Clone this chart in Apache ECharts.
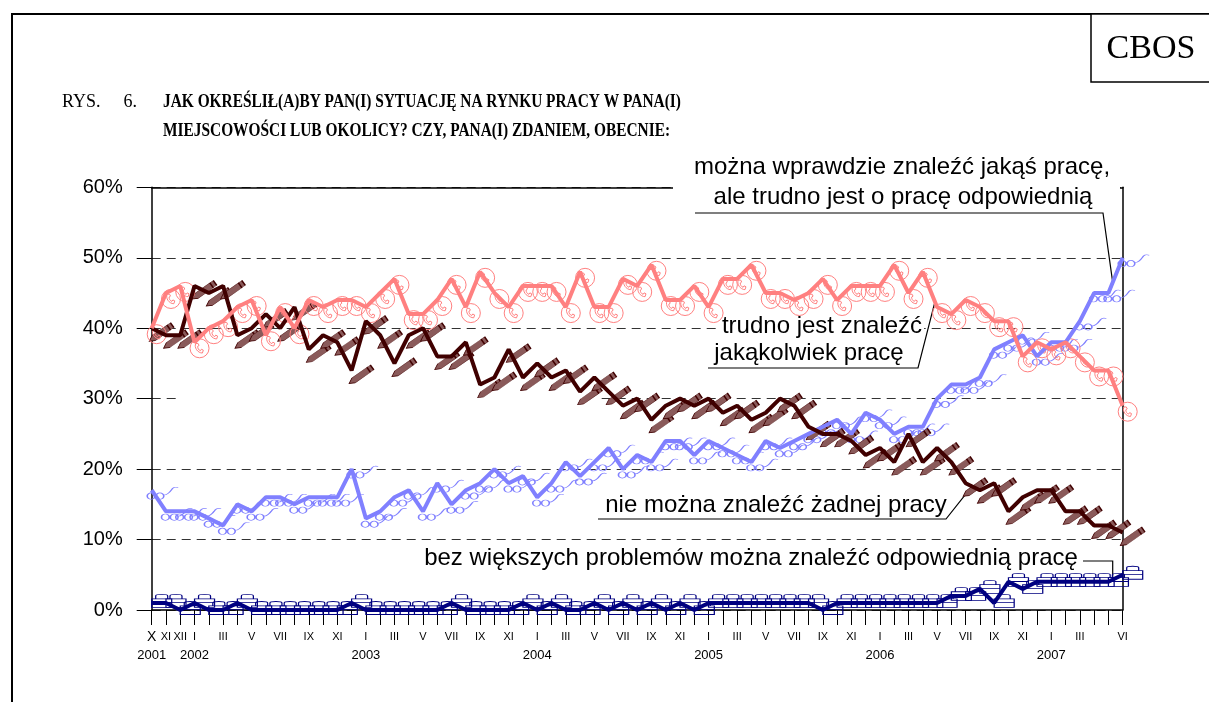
<!DOCTYPE html>
<html>
<head>
<meta charset="utf-8">
<script src="https://cdn.jsdelivr.net/npm/echarts@6/dist/echarts.min.js"></script>
<style>
html,body{margin:0;padding:0;background:#fff;}
#chart{width:1209px;height:702px;}
</style>
</head>
<body>
<div id="chart"></div>
<script>
// ---------- DATA ----------
const categories = [
 '2001-10','2001-11','2001-12',
 '2002-01','2002-02','2002-03','2002-04','2002-05','2002-06','2002-07','2002-08','2002-09','2002-10','2002-11','2002-12',
 '2003-01','2003-02','2003-03','2003-04','2003-05','2003-06','2003-07','2003-08','2003-09','2003-10','2003-11','2003-12',
 '2004-01','2004-02','2004-03','2004-04','2004-05','2004-06','2004-07','2004-08','2004-09','2004-10','2004-11','2004-12',
 '2005-01','2005-02','2005-03','2005-04','2005-05','2005-06','2005-07','2005-08','2005-09','2005-10','2005-11','2005-12',
 '2006-01','2006-02','2006-03','2006-04','2006-05','2006-06','2006-07','2006-08','2006-09','2006-10','2006-11','2006-12',
 '2007-01','2007-02','2007-03','2007-04','2007-05','2007-06'
];
const monthTickLabels = [
 'X','XI','XII',
 'I','','III','','V','','VII','','IX','','XI','',
 'I','','III','','V','','VII','','IX','','XI','',
 'I','','III','','V','','VII','','IX','','XI','',
 'I','','III','','V','','VII','','IX','','XI','',
 'I','','III','','V','','VII','','IX','','XI','',
 'I','','III','','','VI'
];
const yearTickLabels = {0:'2001',3:'2002',15:'2003',27:'2004',39:'2005',51:'2006',63:'2007'};

// "można wprawdzie znaleźć jakąś pracę, ale trudno jest o pracę odpowiednią"
const seriesOdpowiednia = [17,14,14,14,13,12,15,14,16,16, 15,16,16,16,20,13,14,16,17,14,
 18,15,17,18,20,18,19,16,18,21, 19,21,23,20,22,21,24,24,22,24,
 23,22,21,24,23,24,25,26,27,25, 28,27,25,26,26,30,32,32,33,37,
 38,39,36,38,38,41,45,45,50];
// "trudno jest znaleźć jakąkolwiek pracę"
const seriesJakakolwiek = [40,45,46,38,40,41,43,44,39,43, 40,44,43,44,44,43,45,47,42,42,
 44,47,43,48,45,43,46,46,46,43, 48,43,43,47,46,49,44,44,46,43,
 47,47,49,45,45,44,45,47,44,46, 46,46,49,45,48,43,42,44,43,41,
 41,36,38,37,38,36,34,34,29];
// "nie można znaleźć żadnej pracy"
const seriesZadnej = [40,39,39,46,45,46,39,40,42,40, 43,37,39,38,34,41,39,35,39,40,
 36,36,38,32,33,37,33,35,33,34, 31,33,31,29,30,27,29,30,29,30,
 28,29,27,28,30,29,26,25,25,24, 22,23,21,25,21,23,21,18,17,18,
 14,16,17,17,14,14,12,12,11];
// "bez większych problemów można znaleźć odpowiednią pracę"
const seriesBez = [1,1,0,1,0,0,1,0,0,0, 0,0,0,0,1,0,0,0,0,0,
 0,1,0,0,0,0,1,0,1,0, 0,1,0,1,0,1,0,1,0,1,
 1,1,1,1,1,1,1,0,1,1, 1,1,1,1,1,1,2,2,3,1,
 4,3,4,4,4,4,4,4,5];

// ---------- STYLE ----------
const C_PINK = '#ff8080', C_BROWN = '#400000', C_BLUE = '#8080ff', C_NAVY = '#000080';
const SANS = '"Liberation Sans", Arial, sans-serif';
const SERIF = '"Liberation Serif", "Times New Roman", serif';

const PENCIL = 'path://M0,5 L8,0 L34,0 L34,10 L8,10 Z M34,0 L40,0 L40,10 L34,10 Z';
const PHONE = 'path://M10,0 A10,10 0 1,1 9.99,0 Z M6,5 C4,9 8,15 13,15 L14,12 L12,11 L11,12.5 C9,12 8,10 8,8 L9.5,7 L8.5,5 Z';
const GLASSES = 'path://M0,9 A3.5,3 0 1,0 7,9 A3.5,3 0 1,0 0,9 Z M8,9 A3.5,3 0 1,0 15,9 A3.5,3 0 1,0 8,9 Z M7,8 L8,8 M15,8 C18,8 20,6 22,3 C23,1 25,0 28,1';
const CASE = 'path://M0,5 L20,5 L20,14 L0,14 Z M4,5 L4,2 C4,0 16,0 16,2 L16,5 M0,9 L20,9';

const chart = echarts.init(document.getElementById('chart'), null, {renderer:'canvas'});

function markerSeries(data, symbol, size, offset, rotate, color, fill, bw){
  return {type:'scatter', data:data, symbol:symbol, symbolSize:size, symbolOffset:offset,
    symbolRotate:rotate, z:2, silent:true,
    itemStyle:{color:fill, borderColor:color, borderWidth:bw, opacity:1}};
}
function lineSeries(name, data, color){
  return {type:'line', name:name, data:data, showSymbol:false, symbol:'none', z:3,
    lineStyle:{color:color, width:4}, itemStyle:{color:color}, silent:true};
}

const option = {
  animation:false,
  backgroundColor:'#fff',
  grid:{left:151.7, right:86.3, top:187.3, bottom:92},
  xAxis:[{
    type:'category', data:categories, boundaryGap:false,
    axisLine:{show:true, lineStyle:{color:'#000', width:1.5}},
    axisTick:{show:true, interval:0, length:15, lineStyle:{color:'#000', width:1}},
    axisLabel:{show:true, interval:0, margin:20, color:'#000', fontFamily:SANS,
      formatter:function(v, i){
        const m = monthTickLabels[i];
        const y = yearTickLabels[i];
        if (!m && !y) return '';
        const mStyle = (i === 0) ? 'big' : 'm';
        let s = '{' + mStyle + '|' + (m || ' ') + '}';
        if (y) s += '\n{y|' + y + '}';
        return s;
      },
      rich:{
        m:{fontSize:11, lineHeight:14, fontFamily:SANS, color:'#000'},
        big:{fontSize:14, lineHeight:14, fontFamily:SANS, color:'#000'},
        y:{fontSize:13, lineHeight:23, fontFamily:SANS, color:'#000'}
      }
    },
    splitLine:{show:false}
  },{
    type:'category', data:categories, boundaryGap:false, position:'top',
    axisLine:{show:true, onZero:false, lineStyle:{color:'#000', width:1.5}},
    axisTick:{show:false}, axisLabel:{show:false}, splitLine:{show:false}
  }],
  yAxis:[{
    type:'value', min:0, max:60, interval:10,
    axisLine:{show:true, lineStyle:{color:'#000', width:1.5}},
    axisTick:{show:true, length:15, lineStyle:{color:'#000'}},
    axisLabel:{formatter:'{value}%', fontSize:20, fontFamily:SANS, color:'#000', margin:29},
    splitLine:{show:true, lineStyle:{color:'#333', width:1, type:[9,6]}}
  },{
    type:'value', min:0, max:60, interval:10, position:'right',
    axisLine:{show:true, onZero:false, lineStyle:{color:'#000', width:1.5}},
    axisTick:{show:false}, axisLabel:{show:false}, splitLine:{show:false}
  }],
  series:[
    markerSeries(seriesBez, CASE, [20,13], [10,-2], 0, C_NAVY, 'rgba(0,0,0,0)', 1),
    markerSeries(seriesOdpowiednia, GLASSES, [31,12], [11,3], 0, C_BLUE, 'rgba(0,0,0,0)', 1),
    markerSeries(seriesZadnej, PENCIL, [28,6], [9,5], 35, C_BROWN, '#8a5a5a', 0.7),
    markerSeries(seriesJakakolwiek, PHONE, [19,19], [5,6], 0, C_PINK, 'rgba(0,0,0,0)', 1),
    lineSeries('odpowiednia', seriesOdpowiednia, C_BLUE),
    lineSeries('zadnej', seriesZadnej, C_BROWN),
    lineSeries('jakakolwiek', seriesJakakolwiek, C_PINK),
    lineSeries('bez', seriesBez, C_NAVY)
  ]
};
chart.setOption(option);

// ---------- ANNOTATIONS (leader ends derived from data) ----------
function px(i, arr){ return chart.convertToPixel({xAxisIndex:0, yAxisIndex:0}, [i, arr[i]]); }
function along(i, arr, t){ const a = px(i, arr), b = px(i+1, arr); return [a[0]+(b[0]-a[0])*t, a[1]+(b[1]-a[1])*t]; }

const pBlue = along(67, seriesOdpowiednia, 0.3);
const pPink = along(54, seriesJakakolwiek, 0.85);
const pBrown = along(57, seriesZadnej, 0.44);
const pNavy = along(67, seriesBez, 0.3);
const y30 = chart.convertToPixel({yAxisIndex:0}, 30);
const y60 = chart.convertToPixel({yAxisIndex:0}, 60);

function txt(s, x, y, size, font, weight, align, bg, sx){
  const st = {text:s, x:0, y:0, font:(weight||'normal') + ' ' + size + 'px ' + font, fill:'#000',
    align:align||'center', verticalAlign:'middle'};
  if (bg) { st.backgroundColor = '#fff'; st.padding = [0,2]; }
  const el = {type:'text', x:x, y:y, z:1, silent:true, style:st};
  if (sx) { el.scaleX = sx; }
  return el;
}
function pl(points){
  return {type:'polyline', z:1, silent:true, shape:{points:points}, style:{stroke:'#000', lineWidth:1.2, fill:null}};
}

chart.setOption({graphic:[
  // outer frame
  {type:'line', z:1, shape:{x1:12,y1:14,x2:1209,y2:14}, style:{stroke:'#000', lineWidth:2}},
  {type:'line', z:1, shape:{x1:12,y1:13,x2:12,y2:702}, style:{stroke:'#000', lineWidth:2}},
  {type:'rect', z:1, shape:{x:1091,y:14,width:120,height:68}, style:{fill:'#fff', stroke:'#000', lineWidth:1.5}},
  txt('CBOS', 1151, 49, 34, SERIF),
  // title
  txt('RYS.', 62, 102, 18, SERIF, 'normal', 'left'),
  txt('6.', 137, 102, 18, SERIF, 'normal', 'right'),
  txt('JAK OKREŚLIŁ(A)BY PAN(I) SYTUACJĘ NA RYNKU PRACY W PANA(I)', 163, 102, 18, SERIF, 'bold', 'left', false, 0.855),
  txt('MIEJSCOWOŚCI LUB OKOLICY? CZY, PANA(I) ZDANIEM, OBECNIE:', 163, 131, 18, SERIF, 'bold', 'left', false, 0.855),
  // masks: gap in the 30% gridline, hidden part of the top border
  {type:'rect', z:1, silent:true, shape:{x:176, y:y30-2, width:421, height:4}, style:{fill:'#fff'}},
  {type:'rect', z:1, silent:true, shape:{x:673, y:y60-2, width:447, height:4}, style:{fill:'#fff'}},
  // annotation 1
  txt('można wprawdzie znaleźć jakąś pracę,', 902, 167, 24, SANS),
  txt('ale trudno jest o pracę odpowiednią', 903, 197, 24, SANS),
  pl([[695,213],[1103,213],pBlue]),
  // annotation 2
  txt('trudno jest znaleźć', 822, 326, 24, SANS, 'normal', 'center', true),
  txt('jakąkolwiek pracę', 809, 353, 24, SANS),
  pl([[708,368],[918,368],pPink]),
  // annotation 3
  txt('nie można znaleźć żadnej pracy', 776, 505, 24, SANS),
  pl([[598,519],[946,519],pBrown]),
  // annotation 4
  txt('bez większych problemów można znaleźć odpowiednią pracę', 751, 558, 24, SANS),
  pl([[1083,561],[pNavy[0],561],pNavy])
]});
</script>
</body>
</html>
